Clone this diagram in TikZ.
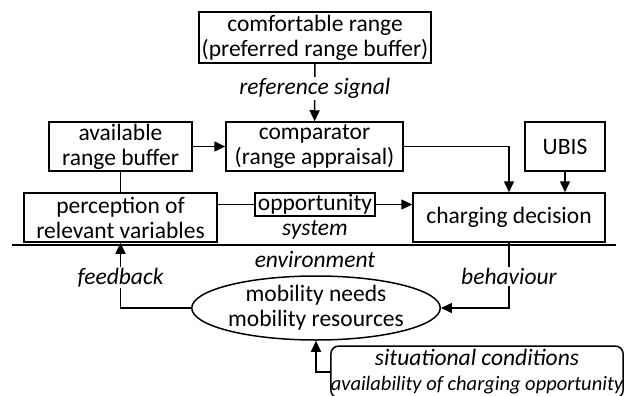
\documentclass[tikz,border=0pt]{standalone}
\usepackage{fontspec}
\setmainfont{Carlito}
\usetikzlibrary{shapes.geometric,arrows.meta}

\begin{document}
\begin{tikzpicture}[x=1pt,y=-1pt,line width=1.5pt,
    font=\fontsize{23.5}{25}\selectfont,
    box/.style={draw,align=center,inner sep=0pt},
    lbl/.style={fill=white,inner sep=1pt,font=\fontsize{23.5}{25}\selectfont\itshape},
    arr/.style={-{Triangle[length=11pt,width=10pt]}}]
  \useasboundingbox (0,0) rectangle (624,396);

  \node[box,minimum width=232,minimum height=51] (comf) at (315,37.5) {comfortable range\\(preferred range buffer)};
  \node[box,minimum width=143,minimum height=49] (avail) at (120.5,146.5) {available\\range buffer};
  \node[box,minimum width=177,minimum height=49] (comp) at (314.5,146.5) {comparator\\(range appraisal)};
  \node[box,minimum width=80,minimum height=49] (ubis) at (565,146.5) {UBIS};
  \node[box,minimum width=193,minimum height=49] (perc) at (120.5,217.5) {perception of\\relevant variables};
  \node[box,minimum width=120,minimum height=23] (opp) at (315,204.5) {opportunity};
  \node[box,minimum width=192,minimum height=49] (charg) at (509,217.5) {charging decision};
  \node[draw,ellipse,align=center,inner sep=0pt,minimum width=235,minimum height=64] (ell) at (316,308) {mobility needs\\mobility resources};
  \node[box,rounded corners=8pt,minimum width=292,minimum height=52,
    font=\fontsize{23.5}{25}\selectfont\itshape] (sit) at (477,372)
    {situational conditions\\{\fontsize{20.5}{25}\selectfont availability of charging opportunity}};

  \node[font=\fontsize{23.5}{25}\selectfont\itshape] (sys) at (315,230) {system};
  \node[font=\fontsize{23.5}{25}\selectfont\itshape] (env) at (315,260) {environment};

  \coordinate (envL) at (12,245);
  \coordinate (envR) at (616,245);
  \draw[line width=2pt] (envL) -- (envR);

  \draw[arr] (comf) -- node[lbl,pos=0.43] {reference signal} (comp);
  \draw[arr] (avail) -- (comp);
  \draw (avail) -- (perc);
  \draw[arr] (comp.east) -| (charg.north);
  \draw[arr] (ubis) -- (ubis.south |- charg.north);
  \draw (perc.east |- opp.west) -- (opp.west);
  \draw[arr] (opp.east) -- (opp.east -| charg.west);
  \draw[arr] (ell.west) -| node[lbl,pos=0.735] {feedback} (perc.south);
  \draw[arr] (charg.south) |- node[lbl,pos=0.26] {behaviour} (ell.east);
  \draw[arr] (sit.west) -| (ell.south);
\end{tikzpicture}
\end{document}
